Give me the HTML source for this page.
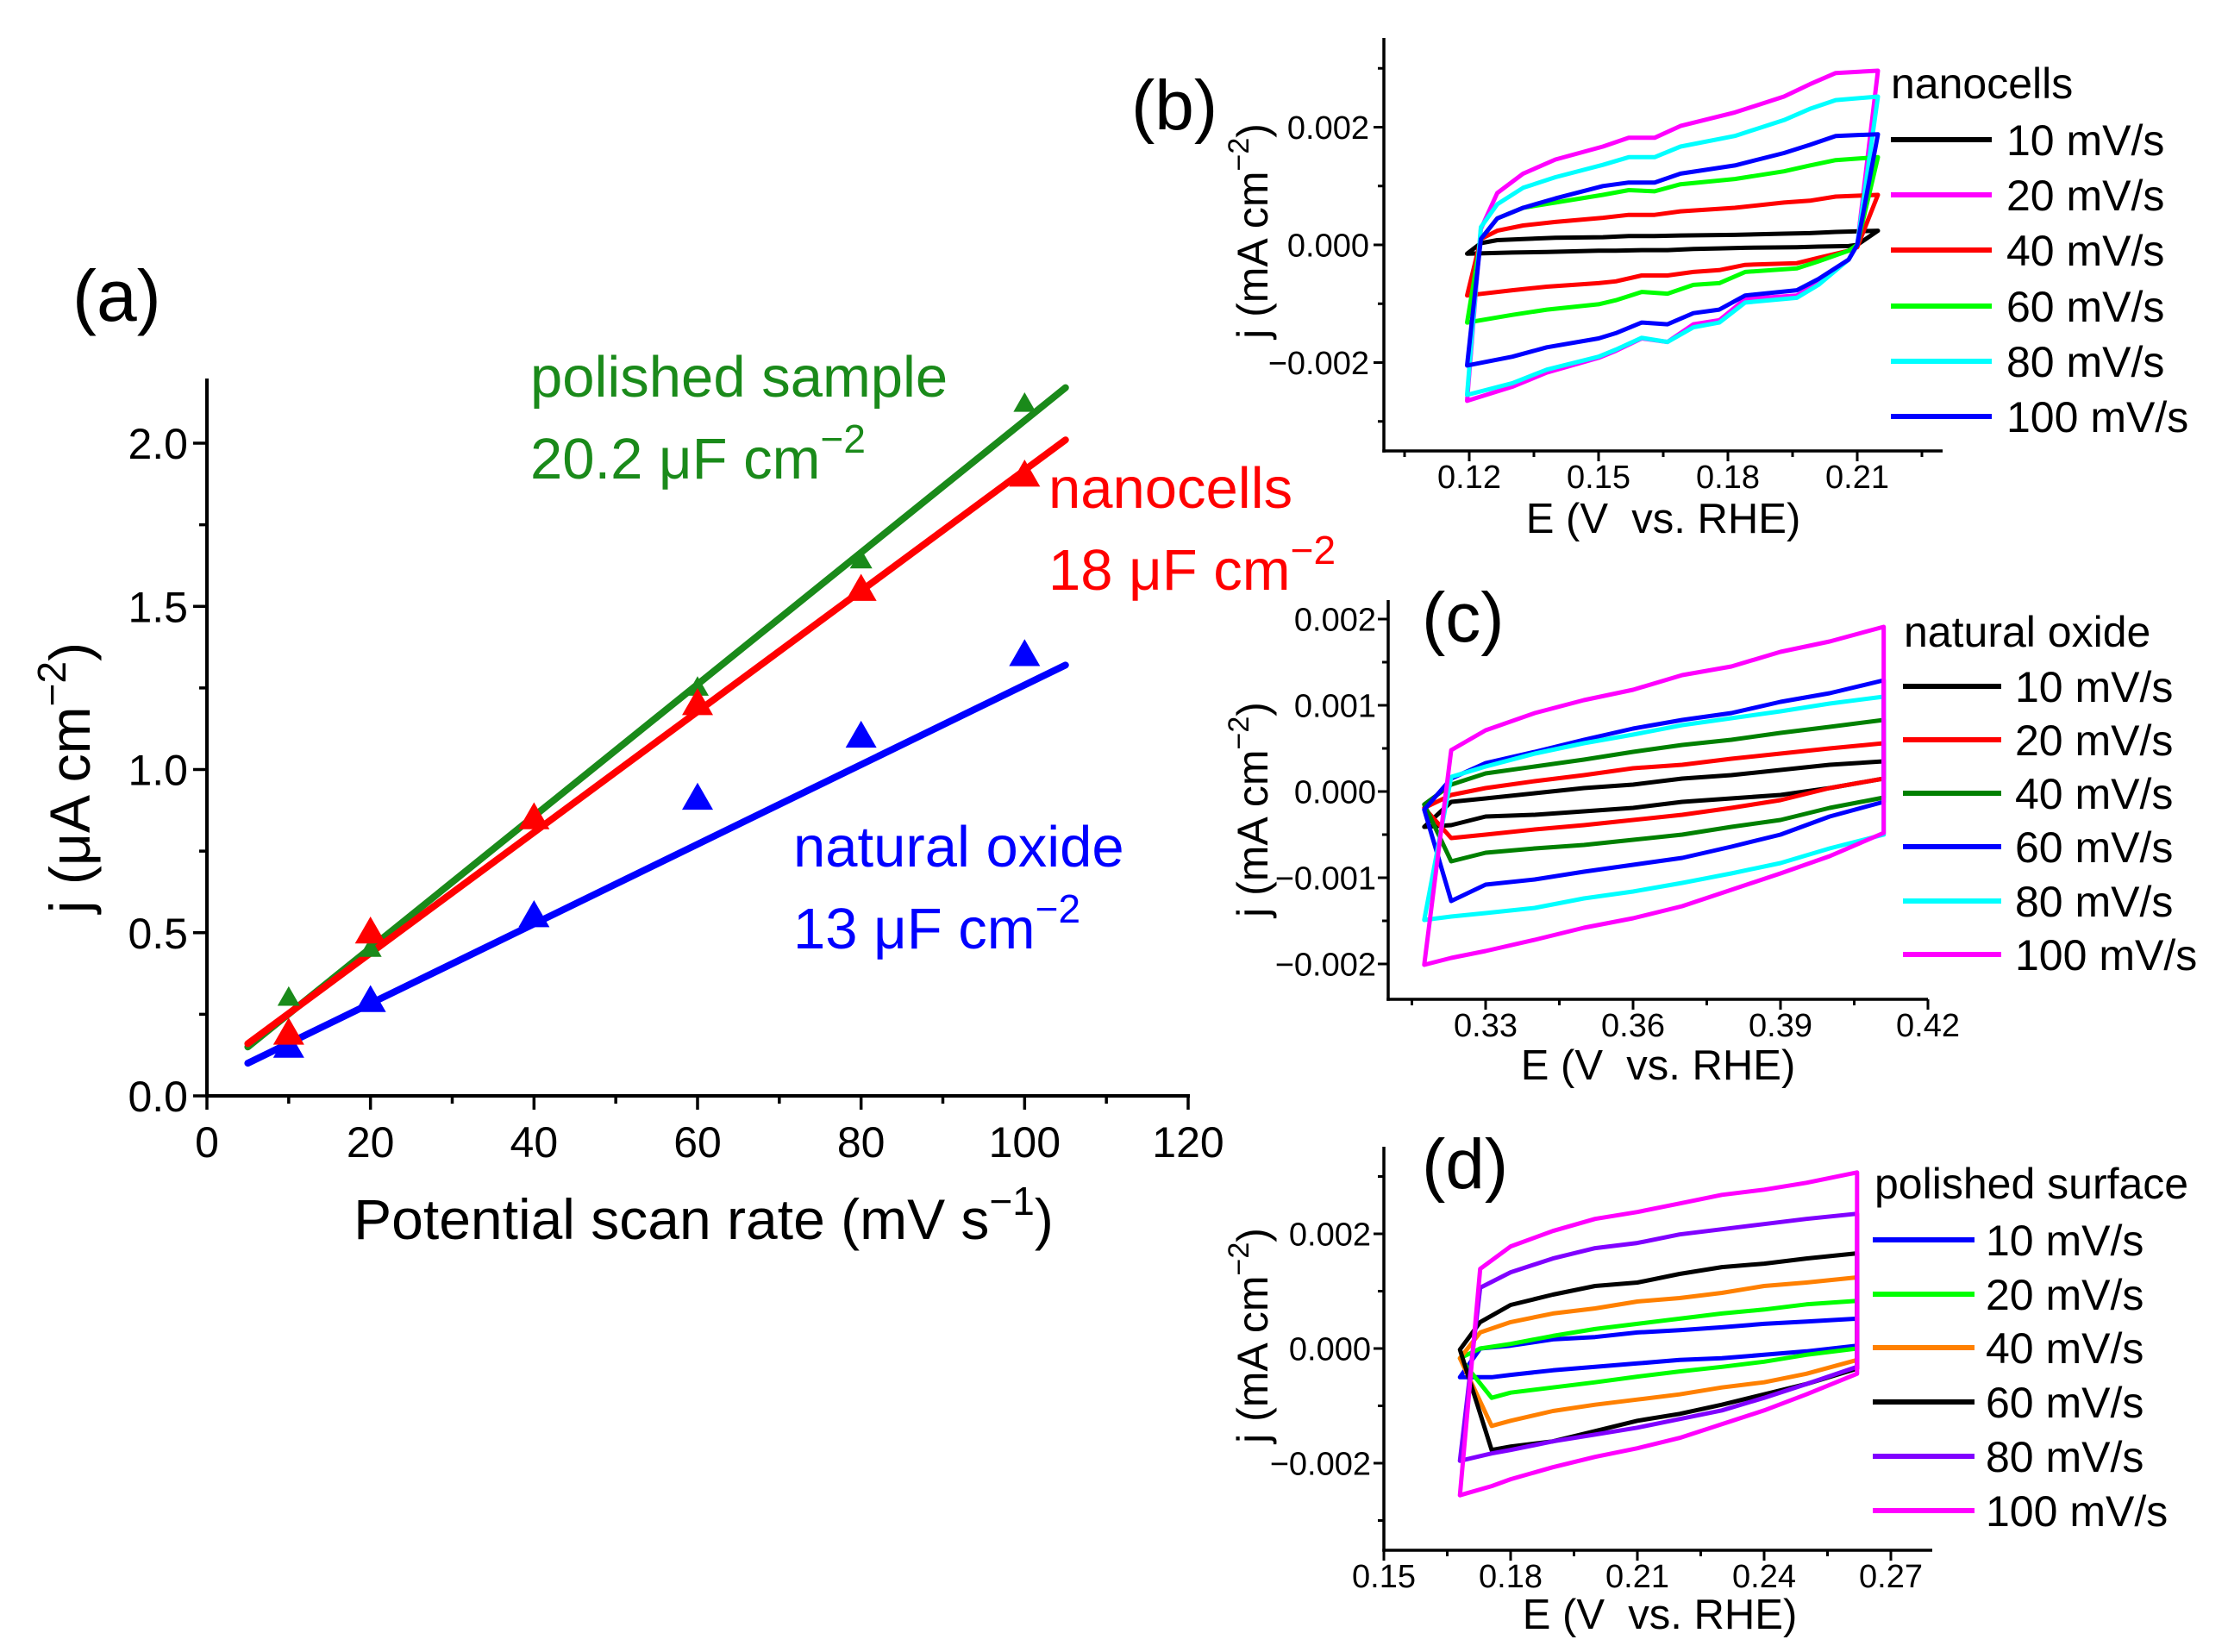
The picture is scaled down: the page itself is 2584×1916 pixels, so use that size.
<!DOCTYPE html>
<html>
<head>
<meta charset="utf-8">
<style>
html,body{margin:0;padding:0;background:#fff;}
svg{display:block;font-family:"Liberation Sans",Arial,sans-serif;}
</style>
</head>
<body>
<svg id="chart" xmlns="http://www.w3.org/2000/svg" width="2584" height="1916" viewBox="0 0 2584 1916">
<rect x="0" y="0" width="2584" height="1916" fill="#fff"/>
</svg>
<script>
// ---------- Panel (a) data ----------
const aScanRates = [10, 20, 40, 60, 80, 100];
const aPolished = [0.30, 0.45, 0.86, 1.25, 1.64, 2.12];
const aNanocells = [0.19, 0.50, 0.85, 1.20, 1.55, 1.90];
const aNatural = [0.15, 0.29, 0.55, 0.91, 1.10, 1.35];
const aFitX = [5, 105];
const aFitPolished = [0.15, 2.17];
const aFitNanocells = [0.16, 2.01];
const aFitNatural = [0.10, 1.32];
const aXTicks = [0, 20, 40, 60, 80, 100, 120];
const aYTicks = [0.0, 0.5, 1.0, 1.5, 2.0];
const aYTickLabels = ["0.0", "0.5", "1.0", "1.5", "2.0"];

// ---------- Panel (b) data (j in units of 0.001 mA cm^-2) ----------
const bLegend = ["10 mV/s", "20 mV/s", "40 mV/s", "60 mV/s", "80 mV/s", "100 mV/s"];
const bEu = [0.1227, 0.1265, 0.1325, 0.14, 0.151, 0.157, 0.163, 0.169, 0.1816, 0.193, 0.199, 0.205, 0.2148];
const bEl = [0.1195, 0.130, 0.138, 0.15, 0.154, 0.160, 0.166, 0.172, 0.178, 0.184, 0.196, 0.201, 0.208, 0.21];
const bU10 = [0.03, 0.08, 0.1, 0.12, 0.13, 0.15, 0.15, 0.16, 0.17, 0.19, 0.2, 0.22, 0.24];
const bL10 = [-0.15, -0.13, -0.12, -0.1, -0.1, -0.09, -0.09, -0.07, -0.06, -0.05, -0.04, -0.03, -0.02, 0.0];
const bU20 = [0.27, 0.88, 1.21, 1.45, 1.67, 1.82, 1.82, 2.02, 2.25, 2.52, 2.73, 2.92, 2.96];
const bL20 = [-2.65, -2.41, -2.17, -1.92, -1.8, -1.59, -1.65, -1.35, -1.28, -0.92, -0.86, -0.65, -0.25, 0.0];
const bU40 = [0.1, 0.24, 0.33, 0.39, 0.46, 0.51, 0.51, 0.57, 0.63, 0.72, 0.75, 0.82, 0.85];
const bL40 = [-0.86, -0.77, -0.71, -0.65, -0.62, -0.52, -0.52, -0.46, -0.43, -0.34, -0.31, -0.22, -0.1, -0.04];
const bU60 = [0.1, 0.45, 0.63, 0.72, 0.85, 0.93, 0.91, 1.03, 1.12, 1.25, 1.35, 1.44, 1.49];
const bL60 = [-1.32, -1.19, -1.1, -1.01, -0.94, -0.8, -0.83, -0.68, -0.65, -0.46, -0.4, -0.28, -0.1, 0.0];
const bU80 = [0.3, 0.69, 0.97, 1.15, 1.36, 1.49, 1.49, 1.67, 1.85, 2.12, 2.31, 2.46, 2.52];
const bL80 = [-2.55, -2.35, -2.12, -1.9, -1.78, -1.58, -1.65, -1.4, -1.32, -0.98, -0.9, -0.68, -0.25, 0.0];
const bU100 = [0.1, 0.45, 0.63, 0.79, 1.0, 1.06, 1.06, 1.21, 1.35, 1.56, 1.7, 1.85, 1.88];
const bL100 = [-2.05, -1.9, -1.74, -1.59, -1.5, -1.32, -1.35, -1.16, -1.1, -0.86, -0.77, -0.58, -0.25, 0.0];
const bXTicks = [0.12, 0.15, 0.18, 0.21];
const bXTickLabels = ["0.12", "0.15", "0.18", "0.21"];
const bYTicks = [2, 0, -2];
const bYTickLabels = ["0.002", "0.000", "\u22120.002"];

// ---------- Panel (c) data ----------
const cLegend = ["10 mV/s", "20 mV/s", "40 mV/s", "60 mV/s", "80 mV/s", "100 mV/s"];
const cEu = [0.323, 0.33, 0.34, 0.35, 0.36, 0.37, 0.38, 0.39, 0.40, 0.411];
const cEl = [0.3175, 0.323, 0.33, 0.34, 0.35, 0.36, 0.37, 0.38, 0.39, 0.40, 0.411];
const cU10 = [-0.12, -0.08, -0.02, 0.04, 0.08, 0.15, 0.19, 0.25, 0.31, 0.35];
const cL10 = [-0.41, -0.39, -0.29, -0.27, -0.23, -0.19, -0.12, -0.08, -0.04, 0.04, 0.15];
const cU20 = [-0.04, 0.04, 0.12, 0.19, 0.27, 0.31, 0.38, 0.44, 0.5, 0.56];
const cL20 = [-0.19, -0.54, -0.5, -0.44, -0.39, -0.33, -0.27, -0.19, -0.1, 0.04, 0.15];
const cU40 = [0.08, 0.21, 0.29, 0.37, 0.46, 0.54, 0.6, 0.68, 0.75, 0.83];
const cL40 = [-0.15, -0.81, -0.71, -0.66, -0.62, -0.56, -0.5, -0.41, -0.33, -0.19, -0.07];
const cU60 = [0.15, 0.33, 0.46, 0.6, 0.73, 0.83, 0.91, 1.04, 1.14, 1.29];
const cL60 = [-0.21, -1.27, -1.08, -1.02, -0.93, -0.85, -0.77, -0.64, -0.5, -0.29, -0.12];
const cU80 = [0.17, 0.29, 0.44, 0.56, 0.66, 0.77, 0.85, 0.93, 1.02, 1.1];
const cL80 = [-1.49, -1.45, -1.41, -1.35, -1.24, -1.16, -1.06, -0.95, -0.83, -0.66, -0.5];
const cU100 = [0.48, 0.71, 0.91, 1.06, 1.18, 1.35, 1.45, 1.62, 1.74, 1.91];
const cL100 = [-2.01, -1.93, -1.85, -1.72, -1.58, -1.47, -1.33, -1.14, -0.95, -0.75, -0.48];
const cXTicks = [0.33, 0.36, 0.39, 0.42];
const cXTickLabels = ["0.33", "0.36", "0.39", "0.42"];
const cYTicks = [2, 1, 0, -1, -2];
const cYTickLabels = ["0.002", "0.001", "0.000", "\u22120.001", "\u22120.002"];

// ---------- Panel (d) data ----------
const dLegend = ["10 mV/s", "20 mV/s", "40 mV/s", "60 mV/s", "80 mV/s", "100 mV/s"];
const dEu = [0.1728, 0.18, 0.19, 0.20, 0.21, 0.22, 0.23, 0.24, 0.25, 0.262];
const dEl = [0.168, 0.1755, 0.18, 0.19, 0.20, 0.21, 0.22, 0.23, 0.24, 0.25, 0.262];
const dU10 = [0.0, 0.05, 0.16, 0.2, 0.28, 0.32, 0.37, 0.43, 0.47, 0.52];
const dL10 = [-0.5, -0.5, -0.46, -0.38, -0.32, -0.26, -0.2, -0.17, -0.11, -0.05, 0.05];
const dU20 = [0.0, 0.08, 0.22, 0.34, 0.43, 0.52, 0.61, 0.68, 0.77, 0.83];
const dL20 = [-0.17, -0.86, -0.77, -0.68, -0.59, -0.49, -0.4, -0.32, -0.23, -0.11, 0.0];
const dU40 = [0.28, 0.46, 0.61, 0.7, 0.82, 0.88, 0.97, 1.09, 1.15, 1.24];
const dL40 = [-0.17, -1.35, -1.26, -1.09, -0.98, -0.89, -0.8, -0.68, -0.59, -0.44, -0.2];
const dU60 = [0.46, 0.76, 0.94, 1.09, 1.15, 1.3, 1.42, 1.48, 1.57, 1.66];
const dL60 = [-0.02, -1.77, -1.71, -1.62, -1.44, -1.26, -1.14, -0.98, -0.8, -0.62, -0.35];
const dU80 = [1.06, 1.33, 1.57, 1.75, 1.84, 1.99, 2.08, 2.17, 2.26, 2.35];
const dL80 = [-1.96, -1.83, -1.77, -1.62, -1.5, -1.38, -1.23, -1.08, -0.86, -0.62, -0.32];
const dU100 = [1.39, 1.78, 2.05, 2.26, 2.38, 2.53, 2.68, 2.77, 2.89, 3.07];
const dL100 = [-2.56, -2.4, -2.28, -2.07, -1.89, -1.74, -1.56, -1.32, -1.08, -0.8, -0.44];
const dXTicks = [0.15, 0.18, 0.21, 0.24, 0.27];
const dXTickLabels = ["0.15", "0.18", "0.21", "0.24", "0.27"];
const dYTicks = [2, 0, -2];
const dYTickLabels = ["0.002", "0.000", "\u22120.002"];

const NS = "http://www.w3.org/2000/svg";
const svg = document.getElementById("chart");
function mk(tag, parent, attrs) {
  const e = document.createElementNS(NS, tag);
  for (const k in attrs) e.setAttribute(k, attrs[k]);
  (parent || svg).appendChild(e);
  return e;
}
function grp(name) {
  const g = mk("g", svg, {});
  
  
  return g;
}
function txt(parent, x, y, s, size, opts) {
  const t = mk("text", parent, Object.assign({x: x, y: y, "font-size": size, fill: "#000"}, opts || {}));
  t.textContent = s;
  return t;
}
function sup(t, s, size, dy) {
  const ts = mk("tspan", t, {"font-size": size, dy: -dy});
  ts.textContent = s;
  return ts;
}

// generic axes: L-shaped, outward ticks
function drawAxes(g, ax) {
  const line = (x1, y1, x2, y2, w) => mk("line", g, {x1, y1, x2, y2, stroke: "#000", "stroke-width": w});
  const yAxis = line(ax.x0, ax.yTop, ax.x0, ax.yBot + ax.lw / 2, ax.lw);
  
  
  const xAxis = line(ax.x0 - ax.lw / 2, ax.yBot, ax.xRight, ax.yBot, ax.lw);
  
  
  ax.xMajor.forEach((v, i) => {
    const px = ax.xs(v);
    const tk = line(px, ax.yBot, px, ax.yBot + ax.major, ax.tw);
    
    
    const lb = txt(g, px, ax.xLabelY, ax.xLabels[i], ax.tickFont, {"text-anchor": "middle"});
    
    
  });
  ax.xMinor.forEach(v => {
    const px = ax.xs(v);
    const tk = line(px, ax.yBot, px, ax.yBot + ax.minor, ax.tw);
    
    
  });
  ax.yMajor.forEach((v, i) => {
    const py = ax.ys(v);
    const tk = line(ax.x0, py, ax.x0 - ax.major, py, ax.tw);
    
    
    const lb = txt(g, ax.yLabelX, py + ax.tickFont * 0.36, ax.yLabels[i], ax.tickFont, {"text-anchor": "end"});
    
    
  });
  ax.yMinor.forEach(v => {
    const py = ax.ys(v);
    const tk = line(ax.x0, py, ax.x0 - ax.minor, py, ax.tw);
    
    
  });
}

// ================= Panel (a) =================
const xa = v => 240 + v * 1138 / 120;
const ya = v => 1271 - v * 378.5;
const gA = grp("panel-a");
drawAxes(gA, {x0: 240, yTop: 439, yBot: 1271, xRight: 1380, lw: 4, tw: 3.5, major: 16, minor: 9,
  xs: xa, ys: ya, xMajor: aXTicks, xLabels: aXTicks.map(String), xMinor: [10, 30, 50, 70, 90, 110],
  yMajor: aYTicks, yLabels: aYTickLabels, yMinor: [0.25, 0.75, 1.25, 1.75, 2.25].filter(v => v < 2.2),
  xLabelY: 1342, yLabelX: 218, tickFont: 50});
const aLab = txt(gA, 84, 372, "(a)", 84);


const aXT = txt(gA, 816, 1437, "Potential scan rate (mV s", 66, {"text-anchor": "middle"});
sup(aXT, "\u22121", 46, 28);
const aXTc = mk("tspan", aXT, {dy: 28}); aXTc.textContent = ")";


const aYT = txt(gA, 0, 0, "j (\u03bcA cm", 66, {"text-anchor": "middle", transform: "translate(104,902) rotate(-90)"});
sup(aYT, "\u22122", 46, 28);
const aYTc = mk("tspan", aYT, {dy: 28}); aYTc.textContent = ")";



const aSeries = [
  {name: "polished", vals: aPolished, fit: aFitPolished, color: "#1a8a1a", size: 26},
  {name: "natural-oxide", vals: aNatural, fit: aFitNatural, color: "#0000ff", size: 36},
  {name: "nanocells", vals: aNanocells, fit: aFitNanocells, color: "#ff0000", size: 36}
];
aSeries.forEach(s => {
  const fl = mk("line", gA, {x1: xa(aFitX[0]), y1: ya(s.fit[0]), x2: xa(aFitX[1]), y2: ya(s.fit[1]),
    stroke: s.color, "stroke-width": 8, "stroke-linecap": "round"});
  
  
});
aSeries.forEach(s => {
  s.vals.forEach((v, i) => {
    const cx = xa(aScanRates[i]), cy = ya(v), h = s.size * 0.87, w = s.size / 2;
    const tri = mk("polygon", gA, {points: `${cx},${cy - h * 0.6} ${cx - w},${cy + h * 0.4} ${cx + w},${cy + h * 0.4}`, fill: s.color});
    
    
  });
});
function annot(x, y, line1, line2, color, name) {
  const t1 = txt(gA, x, y, line1, 67, {fill: color});
  
  
  const t2 = txt(gA, x, y + 95, line2, 67, {fill: color});
  sup(t2, "\u22122", 46, 30);
  
  
}
annot(615, 460, "polished sample", "20.2 \u03bcF cm", "#1a8a1a", "polished-sample");
annot(1216, 589, "nanocells", "18 \u03bcF cm", "#ff0000", "nanocells");
annot(920, 1005, "natural oxide", "13 \u03bcF cm", "#0000ff", "natural-oxide");

// ================= CV panels =================
function cvPanel(cfg) {
  const g = grp(cfg.name);
  drawAxes(g, cfg.ax);
  const lab = txt(g, cfg.labX, cfg.labY, cfg.label, 82);
  
  
  const xt = txt(g, cfg.xtX, cfg.xtY, "E (V\u00a0 vs. RHE)", 49, {"text-anchor": "middle"});
  
  
  const yt = txt(g, 0, 0, "j (mA cm", 50, {"text-anchor": "middle", transform: `translate(${cfg.ytX},${cfg.ytY}) rotate(-90)`});
  sup(yt, "\u22122", 34, 22);
  const ytc = mk("tspan", yt, {dy: 22}); ytc.textContent = ")";
  
  
  cfg.series.forEach((s, k) => {
    const pts = [];
    cfg.Eu.forEach((e, i) => pts.push(cfg.ax.xs(e).toFixed(1) + "," + cfg.ax.ys(s.u[i]).toFixed(1)));
    for (let i = cfg.El.length - 1; i >= 0; i--) pts.push(cfg.ax.xs(cfg.El[i]).toFixed(1) + "," + cfg.ax.ys(s.l[i]).toFixed(1));
    const p = mk("polygon", g, {points: pts.join(" "), fill: "none", stroke: s.color, "stroke-width": 5, "stroke-linejoin": "round"});
    
    
  });
  const lt = txt(g, cfg.legTitleX, cfg.legTitleY, cfg.legTitle, 50);
  
  
  cfg.series.forEach((s, k) => {
    const y = cfg.legRows[k];
    const ln = mk("line", g, {x1: cfg.legX1, y1: y, x2: cfg.legX2, y2: y, stroke: s.color, "stroke-width": 6});
    
    
    const lb = txt(g, cfg.legTX, y + 18, cfg.legend[k], 50);
    
    
  });
}

const xb = E => 1704 + (E - 0.12) / 0.03 * 150;
const yb = j => 284 - j * 68.25;
cvPanel({name: "panel-b", label: "(b)", labX: 1312, labY: 150, xtX: 1929, xtY: 618, ytX: 1470, ytY: 268,
  ax: {x0: 1605, yTop: 44, yBot: 523, xRight: 2253, lw: 3.5, tw: 3, major: 12, minor: 7, xs: xb, ys: yb,
    xMajor: bXTicks, xLabels: bXTickLabels, xMinor: [0.105, 0.135, 0.165, 0.195, 0.225],
    yMajor: bYTicks, yLabels: bYTickLabels, yMinor: [3, 1, -1, -3], xLabelY: 566, yLabelX: 1588, tickFont: 38},
  Eu: bEu, El: bEl, legend: bLegend,
  series: [{u: bU10, l: bL10, color: "#000000"}, {u: bU20, l: bL20, color: "#ff00ff"}, {u: bU40, l: bL40, color: "#ff0000"},
           {u: bU60, l: bL60, color: "#00ff00"}, {u: bU80, l: bL80, color: "#00ffff"}, {u: bU100, l: bL100, color: "#0000ff"}],
  legTitle: "nanocells", legTitleX: 2193, legTitleY: 114, legRows: [162, 226, 290, 355, 419, 483], legX1: 2193, legX2: 2310, legTX: 2327});

const xc = E => 1723 + (E - 0.33) / 0.03 * 171;
const yc = j => 918 - j * 100;
cvPanel({name: "panel-c", label: "(c)", labX: 1649, labY: 744, xtX: 1923, xtY: 1252, ytX: 1470, ytY: 939,
  ax: {x0: 1610, yTop: 696, yBot: 1159, xRight: 2236, lw: 3.5, tw: 3, major: 12, minor: 7, xs: xc, ys: yc,
    xMajor: cXTicks, xLabels: cXTickLabels, xMinor: [0.315, 0.345, 0.375, 0.405],
    yMajor: cYTicks, yLabels: cYTickLabels, yMinor: [1.5, 0.5, -0.5, -1.5], xLabelY: 1202, yLabelX: 1596, tickFont: 38},
  Eu: cEu, El: cEl, legend: cLegend,
  series: [{u: cU10, l: cL10, color: "#000000"}, {u: cU20, l: cL20, color: "#ff0000"}, {u: cU40, l: cL40, color: "#008000"},
           {u: cU60, l: cL60, color: "#0000ff"}, {u: cU80, l: cL80, color: "#00ffff"}, {u: cU100, l: cL100, color: "#ff00ff"}],
  legTitle: "natural oxide", legTitleX: 2208, legTitleY: 750, legRows: [796, 858, 920, 982, 1045, 1107], legX1: 2207, legX2: 2321, legTX: 2337});

const xd = E => 1605 + (E - 0.15) / 0.03 * 147;
const yd = j => 1564 - j * 66.5;
cvPanel({name: "panel-d", label: "(d)", labX: 1649, labY: 1378, xtX: 1925, xtY: 1889, ytX: 1470, ytY: 1549,
  ax: {x0: 1605, yTop: 1330, yBot: 1798, xRight: 2241, lw: 3.5, tw: 3, major: 12, minor: 7, xs: xd, ys: yd,
    xMajor: dXTicks, xLabels: dXTickLabels, xMinor: [0.165, 0.195, 0.225, 0.255],
    yMajor: dYTicks, yLabels: dYTickLabels, yMinor: [3, 1, -1, -3], xLabelY: 1841, yLabelX: 1590, tickFont: 38},
  Eu: dEu, El: dEl, legend: dLegend,
  series: [{u: dU10, l: dL10, color: "#0000ff"}, {u: dU20, l: dL20, color: "#00ff00"}, {u: dU40, l: dL40, color: "#ff8000"},
           {u: dU60, l: dL60, color: "#000000"}, {u: dU80, l: dL80, color: "#8000ff"}, {u: dU100, l: dL100, color: "#ff00ff"}],
  legTitle: "polished surface", legTitleX: 2174, legTitleY: 1390, legRows: [1438, 1501, 1563, 1626, 1689, 1752], legX1: 2172, legX2: 2290, legTX: 2303});
</script>
</body>
</html>
